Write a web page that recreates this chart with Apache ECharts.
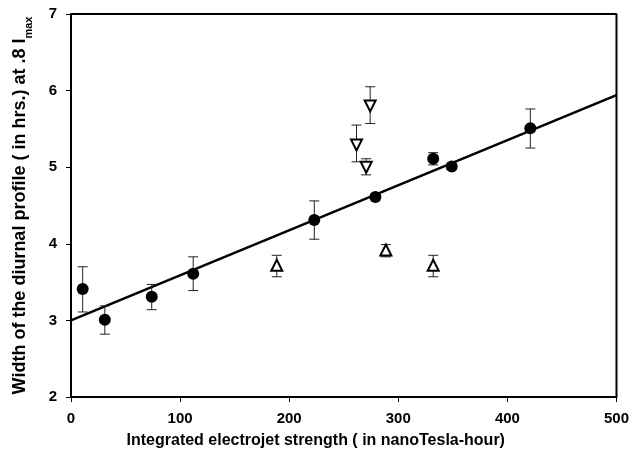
<!DOCTYPE html>
<html><head><meta charset="utf-8">
<script src="https://cdn.jsdelivr.net/npm/echarts@6/dist/echarts.min.js"></script>
<style>html,body{margin:0;padding:0;background:#fff}#c{width:632px;height:464px}</style>
</head><body><div id="c"></div>
<script>
// Filled circles: x, y, error low, error high
const circX  = [10.7, 31, 74, 112, 223, 279, 332, 349, 421];
const circY  = [3.41, 3.01, 3.31, 3.61, 4.31, 4.61, 5.11, 5.01, 5.51];
const circLo = [3.11, 2.82, 3.14, 3.39, 4.06, 4.57, 5.03, 4.97, 5.25];
const circHi = [3.70, 3.19, 3.47, 3.83, 4.56, 4.65, 5.19, 5.05, 5.76];
// Open down-triangles
const downX  = [261.7, 270.6, 274.2];
const downY  = [5.29, 5.00, 5.80];
const downLo = [5.07, 4.90, 5.57];
const downHi = [5.55, 5.11, 6.05];
// Open up-triangles
const upX  = [188.6, 288.6, 332];
const upY  = [3.72, 3.92, 3.72];
const upLo = [3.57, 3.83, 3.57];
const upHi = [3.85, 3.99, 3.85];
// Regression line end points
const fitX = [0, 500];
const fitY = [3.0, 5.94];
const xTicks = [0, 100, 200, 300, 400, 500];
const yTicks = [2, 3, 4, 5, 6, 7];

const errData = [];
[[circX, circLo, circHi], [downX, downLo, downHi], [upX, upLo, upHi]].forEach(([xs, lo, hi]) => {
  xs.forEach((x, i) => errData.push([x, lo[i], hi[i]]));
});
const zip = (a, b) => a.map((v, i) => [v, b[i]]);

const font = 'Liberation Sans, Arial, sans-serif';
const chart = echarts.init(document.getElementById('c'));
chart.setOption({
  animation: false,
  grid: {left: 71, right: 14, top: 14, bottom: 67},
  xAxis: {
    type: 'value', min: xTicks[0], max: xTicks[xTicks.length - 1], interval: 100,
    name: 'Integrated electrojet strength ( in nanoTesla-hour)',
    nameLocation: 'middle', nameGap: 36,
    nameTextStyle: {fontFamily: font, fontWeight: 'bold', fontSize: 16, color: '#000', padding: [0, 56, 0, 0]},
    axisLine: {show: true, lineStyle: {color: '#000', width: 2}},
    axisTick: {show: true, length: 5, lineStyle: {color: '#000', width: 1}},
    axisLabel: {fontFamily: font, fontWeight: 'bold', fontSize: 15, color: '#000', margin: 14},
    splitLine: {show: false}
  },
  yAxis: {
    type: 'value', min: yTicks[0], max: yTicks[yTicks.length - 1], interval: 1,
    name: '{a|Width of the diurnal profile ( in hrs.) at .8 I}{s|max}',
    nameLocation: 'middle', nameGap: 42, nameRotate: 90,
    nameTextStyle: {
      fontFamily: font, fontWeight: 'bold', fontSize: 18, color: '#000',
      rich: {
        a: {fontFamily: font, fontWeight: 'bold', fontSize: 18, color: '#000', lineHeight: 22, verticalAlign: 'bottom'},
        s: {fontFamily: font, fontWeight: 'bold', fontSize: 11, color: '#000', lineHeight: 22, verticalAlign: 'bottom', padding: [0, 0, -5, 0]}
      }
    },
    axisLine: {show: true, lineStyle: {color: '#000', width: 2}},
    axisTick: {show: true, length: 5, lineStyle: {color: '#000', width: 1}},
    axisLabel: {fontFamily: font, fontWeight: 'bold', fontSize: 15, color: '#000', margin: 14},
    splitLine: {show: false}
  },
  series: [
    {
      type: 'line', data: zip(fitX, fitY), showSymbol: false, symbol: 'none',
      lineStyle: {color: '#000', width: 2.5}, z: 2, silent: true
    },
    {
      type: 'custom', z: 3, silent: true,
      data: errData,
      renderItem: function (params, api) {
        const x = api.value(0);
        const p1 = api.coord([x, api.value(1)]);
        const p2 = api.coord([x, api.value(2)]);
        const w = 5;
        const st = {stroke: '#222', lineWidth: 1};
        return {type: 'group', children: [
          {type: 'line', shape: {x1: p1[0], y1: p1[1], x2: p2[0], y2: p2[1]}, style: st},
          {type: 'line', shape: {x1: p1[0] - w, y1: p1[1], x2: p1[0] + w, y2: p1[1]}, style: st},
          {type: 'line', shape: {x1: p2[0] - w, y1: p2[1], x2: p2[0] + w, y2: p2[1]}, style: st}
        ]};
      }
    },
    {
      type: 'scatter', data: zip(circX, circY), symbol: 'circle', symbolSize: 12, z: 4,
      itemStyle: {color: '#000', opacity: 1}
    },
    {
      type: 'scatter', data: zip(downX, downY), symbol: 'triangle', symbolRotate: 180, symbolSize: 11, z: 4,
      itemStyle: {color: '#fff', borderColor: '#000', borderWidth: 2, opacity: 1}
    },
    {
      type: 'scatter', data: zip(upX, upY), symbol: 'triangle', symbolSize: 11, z: 4,
      itemStyle: {color: '#fff', borderColor: '#000', borderWidth: 2, opacity: 1}
    },
    {
      // top and right frame
      type: 'line', data: [[0, 7], [500, 7], [500, 2]], showSymbol: false, symbol: 'none',
      lineStyle: {color: '#000', width: 2}, z: 1, silent: true
    }
  ]
});
</script></body></html>
